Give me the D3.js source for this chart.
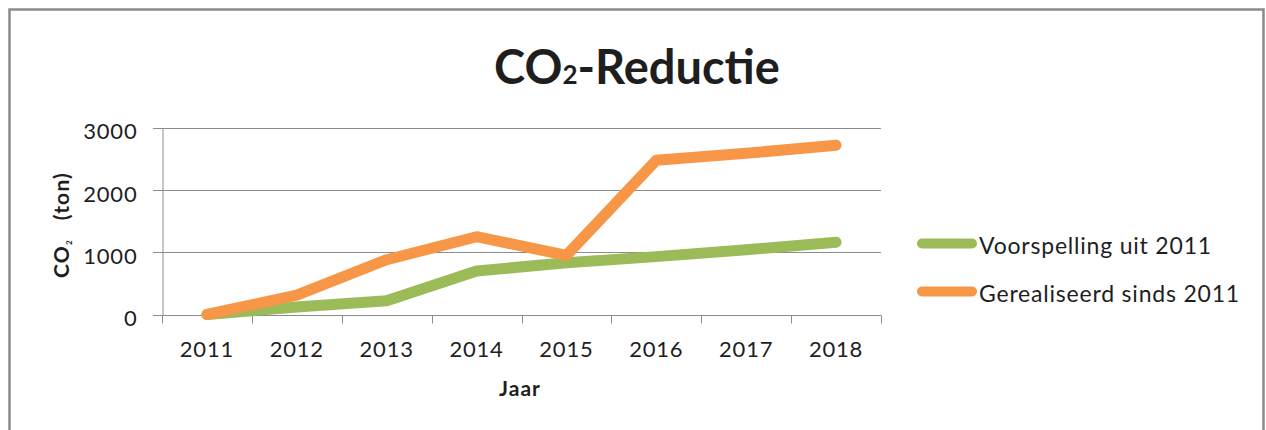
<!DOCTYPE html>
<html>
<head>
<meta charset="utf-8">
<script src="https://cdn.jsdelivr.net/npm/d3@7"></script>
<style>
  html, body { margin: 0; padding: 0; background: #fff; }
  svg { display: block; }
  text { font-family: Lato, "Open Sans", sans-serif; fill: #1e1e1e; }
</style>
</head>
<body>
<svg id="chart" width="1266" height="430"></svg>
<script>
const years = ["2011", "2012", "2013", "2014", "2015", "2016", "2017", "2018"];
const voorspelling = [0, 120, 220, 700, 830, 930, 1040, 1160];
const gerealiseerd = [0, 310, 880, 1250, 950, 2480, 2590, 2720];
const yTicks = [0, 1000, 2000, 3000];
const seriesNames = ["Voorspelling uit 2011", "Gerealiseerd sinds 2011"];
const seriesColors = ["#9BBB59", "#F79646"];

const svg = d3.select("#chart");

// outer frame
svg.append("rect")
  .attr("x", 9.5).attr("y", 9.5).attr("width", 1254).attr("height", 440)
  .attr("fill", "#fff").attr("stroke", "#8a8a8a").attr("stroke-width", 2.5);

const x = d3.scaleBand().domain(years).range([162, 881]);
const y = d3.scaleLinear().domain([0, 3000]).range([314.5, 127.8]);

// gridlines
svg.append("g").selectAll("line").data(yTicks).join("line")
  .attr("x1", 153).attr("x2", 881)
  .attr("y1", d => Math.round(y(d)) + 0.5).attr("y2", d => Math.round(y(d)) + 0.5)
  .attr("stroke", "#8c8c8c").attr("stroke-width", 1);

// y axis
const yAxis = svg.append("g").attr("transform", "translate(162.5,0)")
  .call(d3.axisLeft(y).tickValues(yTicks).tickSize(0).tickPadding(25).tickFormat(d3.format("d")));
yAxis.select(".domain").attr("stroke", "#8c8c8c");
yAxis.selectAll("text")
  .style("font-family", "Lato, sans-serif").style("font-size", "22px")
  .attr("letter-spacing", "0.8px").attr("fill", "#1e1e1e").attr("dy", "0.5em");

// x axis
const xAxis = svg.append("g").attr("transform", "translate(0," + (Math.round(y(0)) + 0.5) + ")")
  .call(d3.axisBottom(x).tickSize(0).tickPadding(26));
xAxis.select(".domain").attr("stroke", "none");
xAxis.selectAll("text")
  .style("font-family", "Lato, sans-serif").style("font-size", "22px")
  .attr("letter-spacing", "0.8px").attr("fill", "#1e1e1e");
const bounds = years.map(d => x(d)).concat([x.range()[1]]);
xAxis.selectAll(".bt").data(bounds).join("line").attr("class", "bt")
  .attr("x1", d => Math.round(d) + 0.5).attr("x2", d => Math.round(d) + 0.5)
  .attr("y1", 0).attr("y2", 8).attr("stroke", "#8c8c8c");

// lines
const line = d3.line()
  .x((d, i) => x(years[i]) + x.bandwidth() / 2)
  .y(d => y(d));
[voorspelling, gerealiseerd].forEach((s, k) => {
  svg.append("path").datum(s)
    .attr("d", line)
    .attr("fill", "none").attr("stroke", seriesColors[k])
    .attr("stroke-width", 11)
    .attr("stroke-linecap", "round").attr("stroke-linejoin", "round");
});

// title
const title = svg.append("text").attr("x", 637).attr("y", 83.5)
  .attr("text-anchor", "middle")
  .style("font-size", "47px").style("font-weight", "bold");
title.append("tspan").text("CO");
title.append("tspan").text("2").style("font-size", "26px");
title.append("tspan").text("-Reductie");

// y axis title
const yt = svg.append("text")
  .attr("transform", "translate(69,225) rotate(-90)")
  .attr("text-anchor", "middle")
  .style("font-size", "21px").style("font-weight", "bold")
  .attr("letter-spacing", "1.2px");
yt.append("tspan").text("CO");
yt.append("tspan").text("2").style("font-size", "8px").attr("dy", 3);
yt.append("tspan").text("\u00a0\u00a0\u00a0(ton)").attr("dy", -3);

// x axis title
svg.append("text").attr("x", 520).attr("y", 396)
  .attr("text-anchor", "middle")
  .style("font-size", "21px").style("font-weight", "bold")
  .attr("letter-spacing", "1px")
  .text("Jaar");

// legend
const legend = svg.append("g");
const ly = [243.5, 291.5];
seriesNames.forEach((n, k) => {
  legend.append("line")
    .attr("x1", 922).attr("x2", 972)
    .attr("y1", ly[k]).attr("y2", ly[k])
    .attr("stroke", seriesColors[k]).attr("stroke-width", 10)
    .attr("stroke-linecap", "round");
  legend.append("text").attr("x", 979).attr("y", ly[k] + 10)
    .style("font-size", "23px").attr("letter-spacing", "0.8px")
    .text(n);
});
</script>
</body>
</html>
